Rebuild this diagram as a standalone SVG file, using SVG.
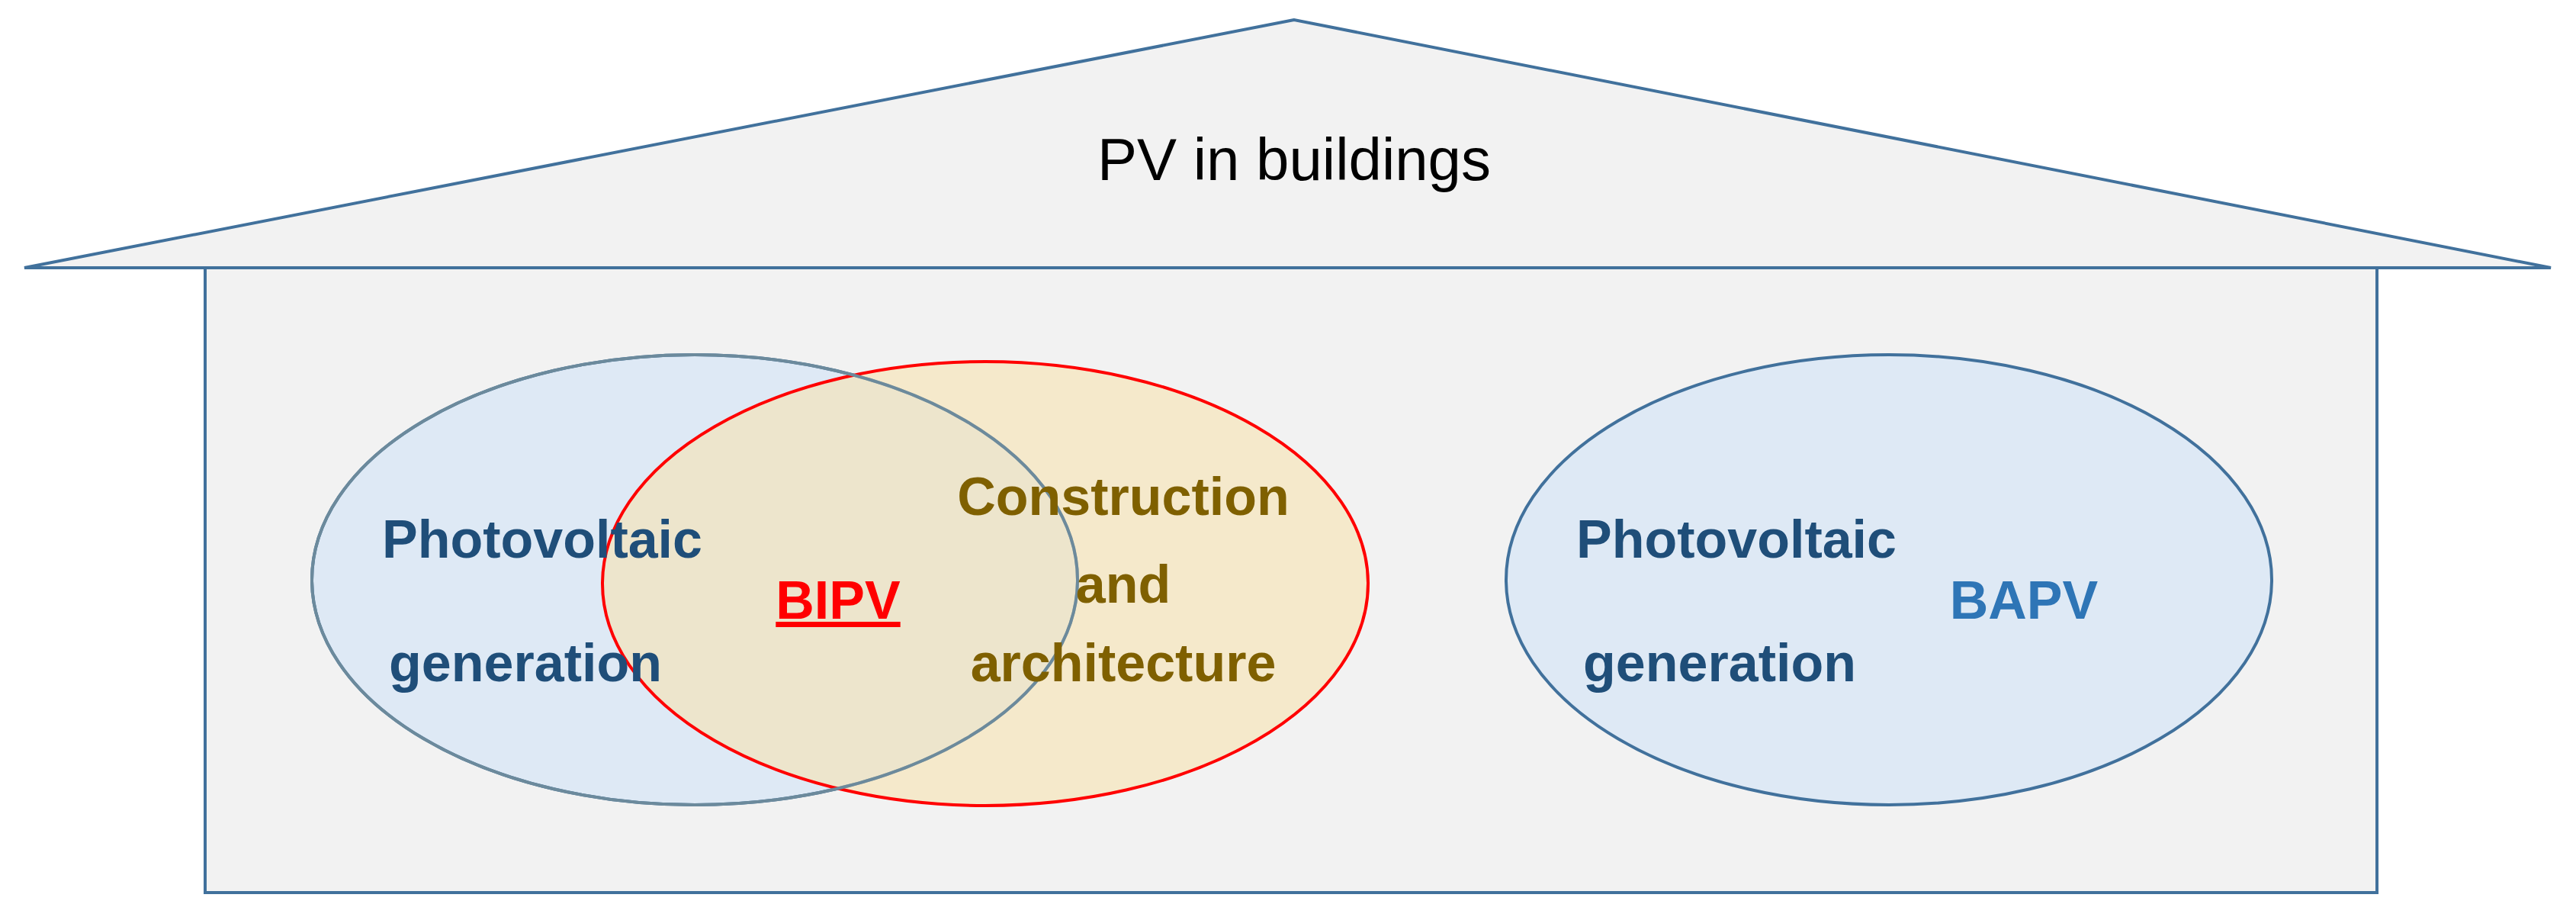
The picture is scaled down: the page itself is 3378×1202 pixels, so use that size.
<svg xmlns="http://www.w3.org/2000/svg" width="3378" height="1202" viewBox="0 0 3378 1202">
<style>
.t{font-family:"Liberation Sans",Arial,sans-serif;font-weight:bold;font-size:70px;text-anchor:middle}
.b{fill:#1f4e79}.o{fill:#7f6000}
.sh{stroke:#41719c;stroke-width:4}
</style>
<rect width="3378" height="1202" fill="#fff"/>
<g id="house">
<rect x="269" y="351" width="2848" height="819" fill="#f2f2f2" class="sh"/>
<polygon points="1697,26 32,351 3345,351" fill="#f2f2f2" class="sh"/>
<text x="1697" y="236" style="font-family:'Liberation Sans',Arial,sans-serif;font-size:78px;text-anchor:middle" fill="#000">PV in buildings</text>
</g>
<g id="pv-left">
<ellipse cx="911" cy="760" rx="502" ry="295" fill="#dee9f5" class="sh"/>
</g>
<g id="construction">
<ellipse cx="1292" cy="765" rx="502" ry="291" fill="#f7e2b0" fill-opacity="0.6" stroke="#ff0000" stroke-width="4"/>
<ellipse cx="911" cy="760" rx="502" ry="295" fill="none" stroke="#6c8a9c" stroke-width="4"/>
<text class="t o" x="1473" y="675">Construction</text>
<text class="t o" x="1473" y="790">and</text>
<text class="t o" x="1473" y="893">architecture</text>
</g>
<g id="pv-left-text">
<text class="t b" x="711" y="731">Photovoltaic</text>
<text class="t b" x="689" y="893">generation</text>
<text class="t" x="1099" y="811" fill="#ff0000" text-decoration="underline">BIPV</text>
</g>
<g id="pv-right">
<ellipse cx="2477" cy="760" rx="502" ry="295" fill="#dee9f5" class="sh"/>
<text class="t b" x="2277" y="731">Photovoltaic</text>
<text class="t b" x="2255" y="893">generation</text>
<text class="t" x="2654" y="811" fill="#2e75b6">BAPV</text>
</g>
<g id="connectors"/>
</svg>
